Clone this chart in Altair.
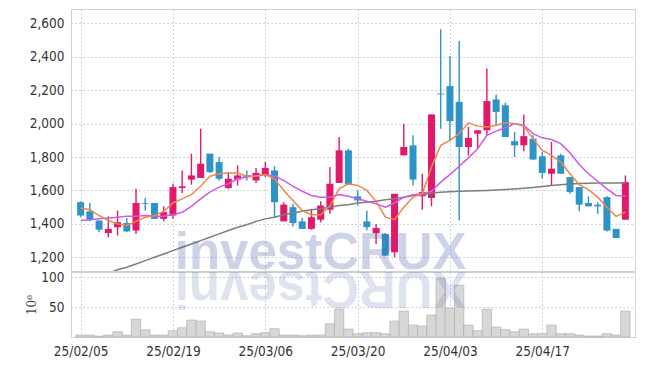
import altair as alt
import pandas as pd

# ---------------- data ----------------
dates = [
    "25/02/05", "25/02/06", "25/02/07", "25/02/10", "25/02/11", "25/02/12", "25/02/13", "25/02/14",
    "25/02/17", "25/02/18", "25/02/19", "25/02/20", "25/02/21", "25/02/24", "25/02/25", "25/02/26",
    "25/02/27", "25/02/28", "25/03/04", "25/03/05", "25/03/06", "25/03/07", "25/03/10", "25/03/11",
    "25/03/12", "25/03/13", "25/03/14", "25/03/17", "25/03/18", "25/03/19", "25/03/20", "25/03/21",
    "25/03/24", "25/03/25", "25/03/26", "25/03/27", "25/03/28", "25/03/31", "25/04/01", "25/04/02",
    "25/04/03", "25/04/04", "25/04/07", "25/04/08", "25/04/09", "25/04/10", "25/04/11", "25/04/14",
    "25/04/15", "25/04/16", "25/04/17", "25/04/18", "25/04/21", "25/04/22", "25/04/23", "25/04/24",
    "25/04/25", "25/04/28", "25/04/29", "25/04/30",
]

opens = [1530, 1475, 1420, 1345, 1380, 1405, 1360, 1525, 1525, 1430,
         1450, 1615, 1665, 1675, 1820, 1770, 1615, 1665, 1690, 1660,
         1690, 1720, 1415, 1500, 1415, 1370, 1425, 1485, 1645, 1840,
         1565, 1415, 1345, 1340, 1230, 1810, 1870, 1565, 1555, 2180,
         2225, 2130, 1860, 1940, 1960, 2145, 2110, 1895, 1870, 1910,
         1805, 1700, 1810, 1680, 1620, 1525, 1515, 1560, 1370, 1425]

closes = [1450, 1425, 1365, 1370, 1410, 1355, 1525, 1520, 1430, 1470,
          1620, 1625, 1690, 1760, 1710, 1670, 1670, 1690, 1680, 1705,
          1735, 1530, 1515, 1405, 1370, 1440, 1510, 1640, 1840, 1635,
          1540, 1380, 1375, 1210, 1580, 1860, 1665, 1590, 2055, 2175,
          2015, 1860, 1915, 1960, 2135, 2070, 1920, 1870, 1925, 1785,
          1705, 1730, 1700, 1590, 1515, 1505, 1505, 1360, 1315, 1650]

highs = [1535, 1525, 1420, 1445, 1480, 1435, 1610, 1555, 1525, 1505,
         1640, 1720, 1820, 1970, 1820, 1800, 1710, 1750, 1720, 1735,
         1770, 1745, 1530, 1520, 1435, 1490, 1535, 1740, 1920, 1850,
         1600, 1480, 1400, 1345, 1580, 2000, 1930, 1700, 2055, 2565,
         2405, 2495, 1980, 1960, 2330, 2175, 2125, 1950, 2055, 1930,
         1830, 1890, 1820, 1680, 1620, 1565, 1530, 1565, 1370, 1690]

lows = [1440, 1415, 1350, 1320, 1330, 1350, 1340, 1480, 1430, 1415,
        1430, 1585, 1635, 1675, 1705, 1660, 1610, 1630, 1660, 1645,
        1680, 1440, 1415, 1385, 1370, 1365, 1410, 1460, 1645, 1635,
        1510, 1360, 1280, 1210, 1200, 1810, 1630, 1485, 1505, 1970,
        1900, 1420, 1810, 1850, 1930, 1985, 1920, 1800, 1835, 1785,
        1670, 1630, 1700, 1580, 1475, 1505, 1460, 1355, 1315, 1425]

ma_short = [1495, 1485, 1450, 1420, 1400, 1390, 1415, 1440, 1450, 1475,
            1525, 1550, 1575, 1625, 1685, 1700, 1705, 1705, 1685, 1685,
            1695, 1670, 1600, 1540, 1480, 1455, 1455, 1510, 1610, 1640,
            1630, 1600, 1535, 1440, 1425, 1500, 1560, 1580, 1740, 1870,
            1900, 1940, 2005, 1985, 1980, 1990, 2005, 2000, 1985, 1910,
            1840, 1810, 1770, 1700, 1635, 1605, 1560, 1500, 1445, 1470]

ma_mid = [1420, 1425, 1430, 1435, 1440, 1445, 1445, 1450, 1445, 1445,
          1455, 1470, 1505, 1550, 1590, 1620, 1640, 1670, 1680, 1690,
          1695, 1685, 1660, 1625, 1595, 1570, 1560, 1560, 1575, 1565,
          1550, 1535, 1520, 1500, 1525, 1560, 1575, 1580, 1595, 1650,
          1695, 1745, 1795, 1850, 1930, 1955, 1975, 2000, 1990, 1940,
          1915, 1905, 1880, 1825, 1755, 1700, 1655, 1610, 1570, 1565]

ma_long = [1045, 1065, 1080, 1105, 1125, 1140, 1160, 1180, 1200, 1220,
           1240, 1260, 1280, 1300, 1320, 1340, 1360, 1380, 1395, 1415,
           1430, 1440, 1455, 1465, 1475, 1485, 1490, 1500, 1510, 1515,
           1525, 1530, 1535, 1545, 1550, 1560, 1570, 1575, 1585, 1590,
           1592, 1595, 1597, 1598, 1600, 1603, 1606, 1609, 1613, 1618,
           1624, 1630, 1634, 1638, 1641, 1643, 1645, 1645, 1645, 1645]

volumes = [3.3, 3.3, 1.5, 3.3, 8.8, 3.3, 30, 12, 3.3, 3.3,
           10.5, 15.5, 28.3, 26.7, 8.8, 6.7, 3.3, 6.7, 2.2, 5.5,
           7.2, 13.8, 3.3, 3.3, 2.2, 3.3, 3.3, 22, 46.7, 13.3,
           5.5, 7.2, 7.2, 5.5, 26.7, 43.3, 20, 18.3, 36.7, 98.3,
           48.3, 86.7, 20, 10.5, 46.7, 16.7, 12.2, 8.8, 13.3, 5.5,
           5.5, 20, 5.5, 5.5, 3.3, 1.7, 1.7, 5.5, 3.3, 43.3]

price_ticks = [1200, 1400, 1600, 1800, 2000, 2200, 2400, 2600]
volume_ticks = [50, 100]
label_every = 10
watermark = "investCRUX"
volume_unit = "10\u2076"

# ---------------- styling ----------------
RED = "#e2196a"
BLUE = "#2e94c7"
ORANGE = "#f0864a"
PURPLE = "#cc5be8"
GRAY = "#7d7d7d"
GRID = "#c3c6da"
FONT = "DejaVu Sans Condensed, Liberation Sans Narrow, sans-serif"

n = len(dates)
idx = list(range(n))
df = pd.DataFrame({"i": idx, "date": dates, "open": opens, "close": closes,
                   "high": highs, "low": lows, "vol": volumes})
ma_df = pd.DataFrame({
    "i": idx * 3,
    "v": ma_long + ma_mid + ma_short,
    "s": ["long"] * n + ["mid"] * n + ["short"] * n,
})

tick_idx = list(range(0, n, label_every))
label_expr = "".join(f"datum.value == {k} ? '{dates[k]}' : " for k in tick_idx) + "''"

x_scale = alt.Scale(domain=[-0.5, n - 0.5], nice=False, zero=False)
p_scale = alt.Scale(domain=[1118, 2686], nice=False, zero=False)
v_scale = alt.Scale(domain=[0, 108.8], nice=False, zero=True)

grid_kw = dict(grid=True, gridColor=GRID, gridDash=[1.5, 2.5], gridWidth=1)

x_price_axis = alt.Axis(values=tick_idx, labels=False, ticks=False, domain=False,
                        title=None, minExtent=0, maxExtent=0, **grid_kw)
x_vol_axis = alt.Axis(values=tick_idx, labelExpr=label_expr, ticks=False, domain=False,
                      title=None, labelPadding=7, labelFlush=False, labelOverlap=False,
                      **grid_kw)

updown = alt.condition("datum.close >= datum.open", alt.value(RED), alt.value(BLUE))

y_axis = alt.Axis(values=price_ticks, labelExpr="format(datum.value, ',')", title=None,
                  ticks=False, domain=False, labelPadding=7, labelOverlap=False, **grid_kw)

base = alt.Chart(df)
wicks = base.mark_rule(strokeWidth=1.4).encode(
    x=alt.X("i:Q", scale=x_scale, axis=x_price_axis),
    y=alt.Y("low:Q", scale=p_scale, axis=y_axis),
    y2="high:Q",
    color=updown,
)
bodies = base.mark_bar(size=7).encode(
    x=alt.X("i:Q", scale=x_scale, axis=x_price_axis),
    y=alt.Y("open:Q", scale=p_scale, axis=y_axis),
    y2="close:Q",
    color=updown,
)
lines = alt.Chart(ma_df).mark_line(strokeWidth=1.5, clip=True).encode(
    x=alt.X("i:Q", scale=x_scale, axis=x_price_axis),
    y=alt.Y("v:Q", scale=p_scale, axis=y_axis),
    color=alt.Color("s:N", scale=alt.Scale(domain=["long", "mid", "short"],
                                           range=[GRAY, PURPLE, ORANGE]), legend=None),
    detail="s:N",
)
wm_df = pd.DataFrame({"t": [watermark], "i": [26.0], "y": [1130.0]})
wm = alt.Chart(wm_df).mark_text(font="Liberation Sans", fontWeight="bold", fontSize=51,
                                color="#4a5fa8", opacity=0.27, align="center",
                                baseline="alphabetic", clip=True).encode(
    x=alt.X("i:Q", scale=x_scale, axis=x_price_axis),
    y=alt.Y("y:Q", scale=p_scale, axis=y_axis), text="t:N")

price = alt.layer(wicks, bodies, lines, wm).properties(width=564, height=262)

v_axis = alt.Axis(values=volume_ticks, title=volume_unit, titleFontWeight="normal",
                  titleFont="DejaVu Serif", titleFontSize=12, titleColor="#444",
                  titlePadding=2, ticks=False, domain=False, labelPadding=7,
                  labelOverlap=False, **grid_kw)
vol_bars = alt.Chart(df).mark_bar(size=9.4, color="#d7d7d7", stroke="#a9a9a9",
                                  strokeWidth=0.6).encode(
    x=alt.X("i:Q", scale=x_scale, axis=x_vol_axis),
    y=alt.Y("vol:Q", scale=v_scale, axis=v_axis),
)
refl_df = pd.DataFrame({"t": [watermark[::-1]], "i": [26.0], "vol": [108.5]})
refl = alt.Chart(refl_df).mark_text(font="Liberation Sans", fontWeight="bold", fontSize=51,
                                    color="#4a5fa8", opacity=0.17, align="center",
                                    baseline="alphabetic", angle=180, clip=True).encode(
    x=alt.X("i:Q", scale=x_scale, axis=x_vol_axis),
    y=alt.Y("vol:Q", scale=v_scale, axis=v_axis), text="t:N")

volume = alt.layer(vol_bars, refl).properties(width=564, height=65)

chart = alt.vconcat(price, volume, spacing=-3).properties(
    padding={"left": 17, "top": 0, "right": 2, "bottom": 2}
).configure_view(stroke="#cfcfcf", strokeWidth=1).configure_axis(
    labelFont=FONT, labelFontSize=13.5, labelColor="#333"
)

chart.save("out.html", embed_options={"renderer": "svg", "actions": False})
